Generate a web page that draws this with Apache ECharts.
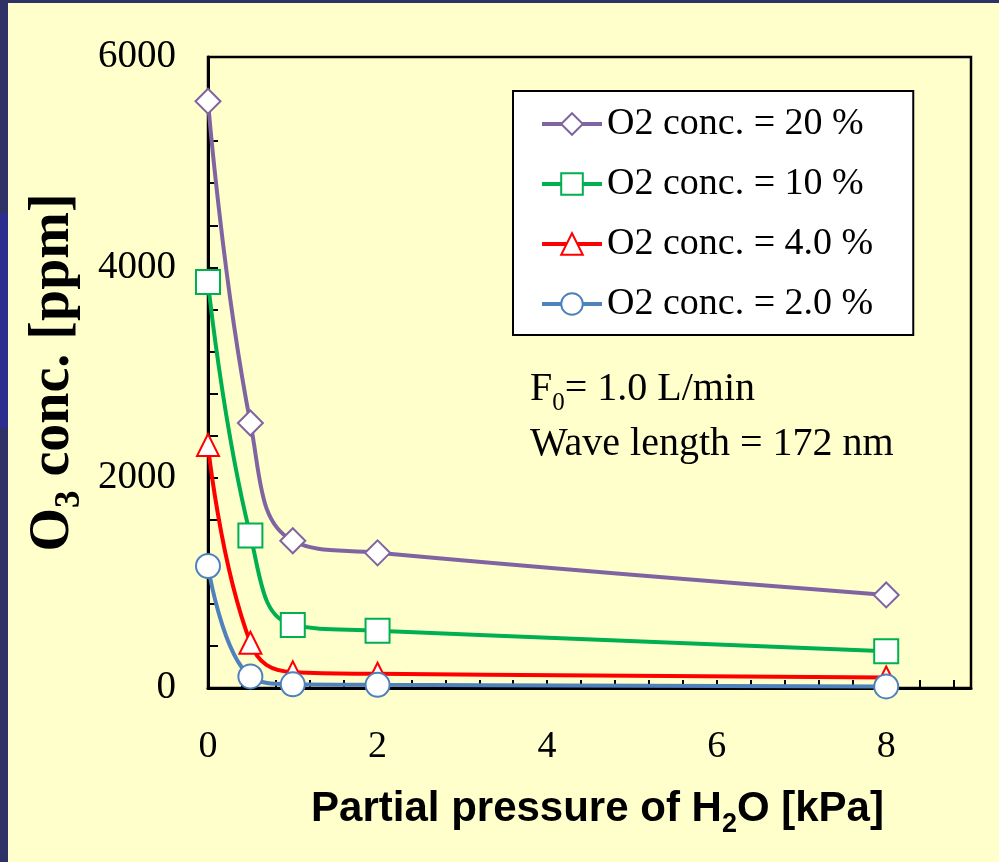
<!DOCTYPE html>
<html>
<head>
<meta charset="utf-8">
<script src="https://cdn.jsdelivr.net/npm/echarts@6/dist/echarts.min.js"></script>
<style>
  html, body { margin: 0; padding: 0; }
  body { width: 999px; height: 862px; background: #2E3266; position: relative; overflow: hidden; }
  #band { position: absolute; left: 0; top: 213px; width: 8px; height: 215px; background: #2B2E8E; }
  #panel { position: absolute; left: 8px; top: 3px; right: 0; bottom: 0; background: #FFFFCC; }
  #chart { position: absolute; left: 0; top: 0; width: 999px; height: 862px; }
</style>
</head>
<body>
<div id="band"></div>
<div id="panel"></div>
<div id="chart"></div>
<script>
// Partial pressure of water vapour [kPa]
const pressure = [0, 0.5, 1, 2, 8];

// Ozone concentration [ppm] for each O2 concentration
const o3At20 = [5580, 2520, 1400, 1285, 885];
const o3At10 = [3860, 1450, 600, 545, 350];
const o3At4  = [2310, 430, 150, 135, 100];
const o3At2  = [1160, 110, 35, 30, 15];

const seriesNames = ['O2 conc. = 20 %', 'O2 conc. = 10 %', 'O2 conc. = 4.0 %', 'O2 conc. = 2.0 %'];
const seriesColors = ['#8064A2', '#00B050', '#FF0000', '#4F81BD'];
const seriesSymbols = ['diamond', 'rect', 'triangle', 'circle'];
const seriesValues = [o3At20, o3At10, o3At4, o3At2];

const xTickStep = 0.4, xLabelStep = 2, xMax = 9;
const yTickStep = 400, yLabelStep = 2000, yMax = 6000;

const serif = 'Liberation Serif';
const sans = 'Liberation Sans';

function onStep(v, step) {
  const r = v / step;
  return Math.abs(r - Math.round(r)) < 1e-6;
}

const series = seriesValues.map((vals, i) => ({
  name: seriesNames[i],
  type: 'line',
  smooth: 0.45,
  clip: false,
  data: pressure.map((p, j) => [p, vals[j]]),
  symbol: seriesSymbols[i],
  symbolSize: seriesSymbols[i] === 'triangle' ? 22 : (seriesSymbols[i] === 'diamond' ? 25 : 24),
  lineStyle: { color: seriesColors[i], width: 4 },
  itemStyle: { color: '#FFFFFF', borderColor: seriesColors[i], borderWidth: 2 },
  z: 2 + i
}));

const chart = echarts.init(document.getElementById('chart'), null, { renderer: 'canvas' });
chart.setOption({
  animation: false,
  backgroundColor: 'transparent',
  grid: {
    left: 208, right: 28, top: 57, bottom: 174,
    show: true, borderColor: '#000', borderWidth: 2.5, backgroundColor: 'transparent'
  },
  xAxis: {
    type: 'value',
    min: 0, max: xMax, interval: xTickStep,
    splitLine: { show: false },
    axisLine: { show: true, onZero: false, lineStyle: { color: '#000', width: 3 } },
    axisTick: { show: true, inside: true, length: 8, lineStyle: { color: '#000', width: 2 } },
    axisLabel: {
      margin: 40, color: '#000', fontFamily: serif, fontSize: 38,
      showMaxLabel: true,
      formatter: v => (onStep(v, xLabelStep) ? String(Math.round(v)) : '')
    },
    name: 'Partial pressure of H{s|2}O [kPa]',
    nameLocation: 'middle',
    nameGap: 98,
    nameTextStyle: {
      fontFamily: sans, fontWeight: 'bold', fontSize: 42, color: '#000', lineHeight: 46,
      padding: [0, 0, 0, 16],
      rich: { s: { fontFamily: sans, fontWeight: 'bold', fontSize: 27, lineHeight: 27, verticalAlign: 'bottom', padding: [0, 0, -6, 0] } }
    }
  },
  yAxis: {
    type: 'value',
    min: 0, max: yMax, interval: yTickStep,
    splitLine: { show: false },
    axisLine: { show: true, lineStyle: { color: '#000', width: 3 } },
    axisTick: { show: true, inside: true, length: 10, lineStyle: { color: '#000', width: 2 } },
    axisLabel: {
      margin: 32, color: '#000', fontFamily: serif, fontSize: 39,
      formatter: v => (onStep(v, yLabelStep) ? String(Math.round(v)) : '')
    },
    name: '{a|O}{s|3}{a| conc. [ppm]}',
    nameLocation: 'middle',
    nameGap: 105,
    nameTextStyle: {
      rich: {
        a: { fontFamily: serif, fontWeight: 'bold', fontSize: 56, color: '#000', lineHeight: 60 },
        s: { fontFamily: serif, fontWeight: 'bold', fontSize: 35, color: '#000', lineHeight: 35, verticalAlign: 'bottom', padding: [0, 0, -4, 0] }
      }
    }
  },
  legend: {
    orient: 'vertical',
    left: 513, top: 91,
    backgroundColor: '#FFFFFF',
    borderColor: '#000', borderWidth: 2,
    padding: [13, 40, 11, 27],
    itemWidth: 60, itemHeight: 27, itemGap: 20,
    data: seriesNames,
    lineStyle: { width: 4 },
    itemStyle: { borderWidth: 2 },
    textStyle: { fontFamily: serif, fontSize: 38, color: '#000', lineHeight: 40 }
  },
  graphic: [
    {
      type: 'text', left: 530, top: 369,
      style: {
        text: '{a|F}{s|0}{a|= 1.0 L/min}',
        rich: {
          a: { fontFamily: serif, fontSize: 40, fill: '#000', lineHeight: 46 },
          s: { fontFamily: serif, fontSize: 25, fill: '#000', lineHeight: 25, verticalAlign: 'bottom', padding: [0, 0, -4, 0] }
        }
      }
    },
    {
      type: 'text', left: 530, top: 424,
      style: { text: 'Wave length = 172 nm', font: '40px "Liberation Serif"', fill: '#000' }
    }
  ],
  series: series
});
</script>
</body>
</html>
